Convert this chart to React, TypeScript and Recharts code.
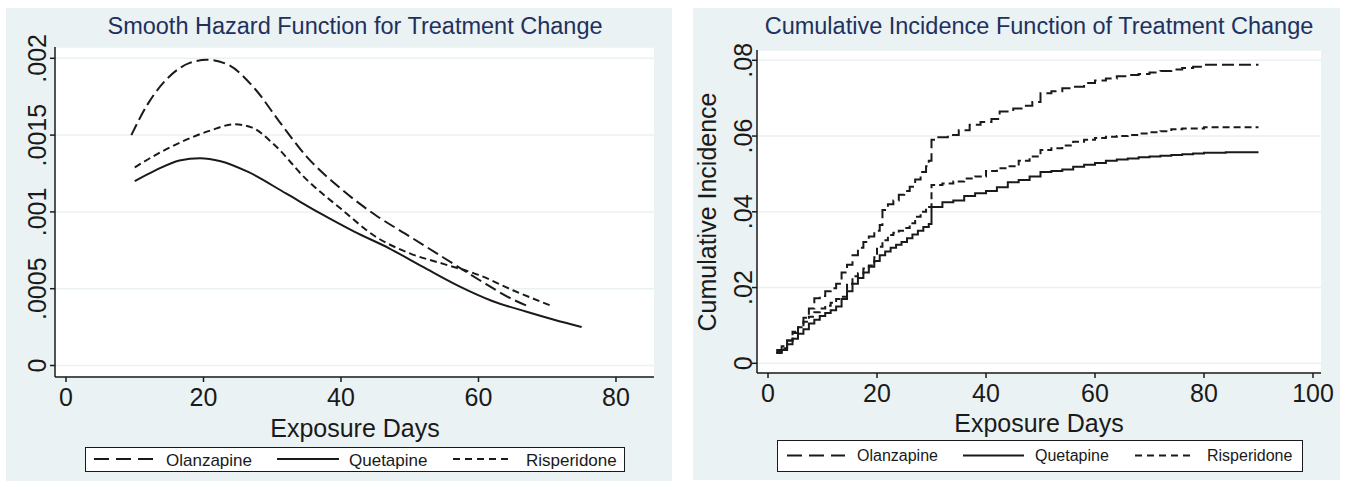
import React from 'react';
import { LineChart, Line, XAxis, YAxis, CartesianGrid } from 'recharts';

// smoothed hazard (left panel)
const olzHazX = [9.5, 12, 15, 18, 20.5, 23.5, 27.5, 31, 35, 40, 45, 50, 55, 60, 65, 67.5];
const olzHazY = [0.0015, 0.00171, 0.00188, 0.00197, 0.00199, 0.00196, 0.0018, 0.00159, 0.00136, 0.00115, 0.00098, 0.00084, 0.0007, 0.00056, 0.00043, 0.00038];
const queHazX = [10, 13, 16.5, 19.5, 22.5, 26.5, 32, 37, 42, 47, 52, 57, 62, 67, 71, 75];
const queHazY = [0.0012, 0.00127, 0.001335, 0.00135, 0.00133, 0.00126, 0.00112, 0.00099, 0.00087, 0.000763, 0.00064, 0.00052, 0.00042, 0.00035, 0.000298, 0.00025];
const risHazX = [10, 13, 17, 21, 24.5, 27, 30, 35, 40, 45, 50, 55, 60, 65, 70.5];
const risHazY = [0.00129, 0.00137, 0.00146, 0.00153, 0.00157, 0.00155, 0.00145, 0.00121, 0.00102, 0.00084, 0.00073, 0.00066, 0.00059, 0.00049, 0.00039];

// cumulative incidence (right panel)
const olzCifX = [1.5, 2.5, 3.5, 4.5, 5.5, 6.5, 7.5, 8.5, 9.5, 10.5, 11.5, 12.5, 13.5, 14.5, 15.5, 16.5, 17.5, 18.5, 19.5, 20.5, 21, 22, 23, 24, 25, 26, 27, 28, 29, 29.5, 30, 31, 33, 35, 37, 39, 41, 42.5, 45, 47, 48.5, 50, 52, 54, 56, 58, 60, 62, 64, 66, 68, 70, 72, 74, 76, 78, 80, 90];
const olzCifY = [0.0035, 0.0045, 0.006, 0.008, 0.0095, 0.012, 0.0145, 0.0172, 0.0178, 0.019, 0.0198, 0.021, 0.024, 0.026, 0.0285, 0.0305, 0.032, 0.0335, 0.035, 0.0365, 0.0405, 0.042, 0.043, 0.0445, 0.0455, 0.0466, 0.0485, 0.0505, 0.052, 0.0535, 0.059, 0.0597, 0.0603, 0.0615, 0.063, 0.0637, 0.0645, 0.0665, 0.0673, 0.068, 0.069, 0.0713, 0.0718, 0.0726, 0.073, 0.074, 0.0747, 0.0752, 0.0758, 0.0761, 0.0764, 0.0768, 0.0772, 0.0776, 0.078, 0.0783, 0.0788, 0.0788];
const queCifX = [1.5, 2.5, 3.5, 4.5, 5.5, 6.5, 7.5, 8.5, 9.5, 10.5, 11.5, 12.5, 13.5, 14.5, 15.5, 16.5, 17.5, 18.5, 19.5, 20.5, 21.5, 22.5, 23.5, 24.5, 25.5, 26.5, 27.5, 28.5, 29.5, 30, 32, 34, 36, 38, 40, 42, 44, 46, 48, 50, 52, 54, 56, 58, 60, 62, 64, 66, 68, 70, 72, 74, 76, 78, 80, 84, 90];
const queCifY = [0.0027, 0.0035, 0.005, 0.0065, 0.0078, 0.009, 0.0105, 0.0115, 0.0125, 0.0133, 0.014, 0.015, 0.017, 0.019, 0.021, 0.0225, 0.024, 0.0255, 0.027, 0.0285, 0.0295, 0.0305, 0.0313, 0.032, 0.033, 0.034, 0.035, 0.036, 0.0368, 0.0413, 0.0425, 0.043, 0.0442, 0.0449, 0.0455, 0.0465, 0.0478, 0.0484, 0.0493, 0.0505, 0.0508, 0.0512, 0.0519, 0.0524, 0.0529, 0.0535, 0.0538, 0.0541, 0.0544, 0.0546, 0.0548, 0.055, 0.0552, 0.0554, 0.0556, 0.0557, 0.0557];
const risCifX = [1.5, 2.5, 3.5, 4.5, 5.5, 6.5, 7.5, 8.5, 9.5, 10.5, 11.5, 12.5, 13.5, 14.5, 15.5, 16.5, 17.5, 18.5, 19.5, 20, 21, 22, 23, 24, 25, 26, 27, 28, 29, 30, 32, 34, 36, 38, 40, 42, 44, 46, 48, 50, 52, 54, 56, 58, 60, 62, 64, 66, 68, 70, 72, 74, 76, 80, 90];
const risCifY = [0.003, 0.004, 0.006, 0.0083, 0.0095, 0.011, 0.0123, 0.0135, 0.0145, 0.0152, 0.016, 0.017, 0.0176, 0.021, 0.023, 0.0238, 0.025, 0.0258, 0.028, 0.0308, 0.0325, 0.0339, 0.0345, 0.035, 0.0357, 0.037, 0.0387, 0.04, 0.0413, 0.0471, 0.0475, 0.048, 0.0488, 0.0493, 0.0508, 0.0515, 0.052, 0.0535, 0.0546, 0.0563, 0.0568, 0.0575, 0.0585, 0.059, 0.0595, 0.0598, 0.06, 0.0603, 0.0607, 0.061, 0.0613, 0.0618, 0.062, 0.0623, 0.0623];

const hazTicksY = [0, 0.0005, 0.001, 0.0015, 0.002];
const hazTicksX = [0, 20, 40, 60, 80];
const cifTicksY = [0, 0.02, 0.04, 0.06, 0.08];
const cifTicksX = [0, 20, 40, 60, 80, 100];

const seriesNames = ['Olanzapine', 'Quetapine', 'Risperidone'];

const toPts = (xs: number[], ys: number[]) => xs.map((x, i) => ({ x, v: ys[i] }));

const FONT = '"Liberation Sans", Arial, sans-serif';
const INK = '#1a1a1a';
const BG = '#eaf2f3';
const NAVY = '#22305e';
const LONG = '12 5';
const SHORT = '7 4';
const dashes = [LONG, undefined, SHORT];

const fmtDec = (v: number) => (v === 0 ? '0' : String(v).replace(/^0/, ''));

const RotTick = ({ x, y, payload }: any) => (
  <text
    x={x}
    y={y}
    transform={`rotate(-90 ${x} ${y})`}
    textAnchor="middle"
    fontSize={25}
    fontFamily={FONT}
    fill={INK}
  >
    {fmtDec(payload.value)}
  </text>
);

const centered = (cx: number, cy: number, extra: React.CSSProperties = {}): React.CSSProperties => ({
  position: 'absolute',
  left: cx,
  top: cy,
  transform: 'translate(-50%, -50%)',
  whiteSpace: 'nowrap',
  lineHeight: 1,
  fontFamily: FONT,
  ...extra,
});

function LegendBox({ left, top, width, height, pos, fontSize }: any) {
  // pos: [sampleStart, sampleEnd, textStart] per series, relative to box
  return (
    <div
      style={{
        position: 'absolute', left, top, width, height, boxSizing: 'border-box',
        border: `1.5px solid ${INK}`, background: '#fff',
      }}
    >
      {seriesNames.map((name, i) => {
        const [s0, s1, t0] = pos[i];
        return (
          <React.Fragment key={name}>
            <svg style={{ position: 'absolute', left: s0, top: 0 }} width={s1 - s0} height={height - 3}>
              <line x1={0} x2={s1 - s0} y1={(height - 3) / 2} y2={(height - 3) / 2}
                stroke={INK} strokeWidth={2} strokeDasharray={i === 0 ? '15 7' : i === 2 ? '7 5' : undefined} />
            </svg>
            <span style={{
              position: 'absolute', left: t0, top: '50%', transform: 'translateY(-50%)',
              fontSize, fontFamily: FONT, color: INK, lineHeight: 1, whiteSpace: 'nowrap',
            }}>{name}</span>
          </React.Fragment>
        );
      })}
    </div>
  );
}

export default function App() {
  const haz = [toPts(olzHazX, olzHazY), toPts(queHazX, queHazY), toPts(risHazX, risHazY)];
  const cif = [toPts(olzCifX, olzCifY), toPts(queCifX, queCifY), toPts(risCifX, risCifY)];

  return (
    <div style={{ position: 'absolute', left: 0, top: 0, width: 1347, height: 483, background: '#fff', overflow: 'hidden' }}>
      {/* left panel */}
      <div style={{ position: 'absolute', left: 6, top: 8, width: 666, height: 473, background: BG }}>
        <div style={centered(349, 19, { fontSize: 23.5, color: NAVY })}>Smooth Hazard Function for Treatment Change</div>
        <LineChart width={666} height={473} margin={{ top: 39, right: 18, bottom: 64, left: 9 }}>
          <CartesianGrid vertical={false} stroke={BG} strokeWidth={1.5} fill="#fff" fillOpacity={1} />
          <XAxis
            dataKey="x" type="number" domain={[-1.6, 85.53]} ticks={hazTicksX} allowDataOverflow
            height={40} tickSize={5} tickMargin={6}
            axisLine={{ stroke: INK, strokeWidth: 1.5 }} tickLine={{ stroke: INK, strokeWidth: 1.5 }}
            tick={{ fontSize: 25, fill: INK, fontFamily: FONT }}
          />
          <YAxis
            type="number" domain={[-0.0000749, 0.0020736]} ticks={hazTicksY} allowDataOverflow
            width={40} tickSize={5} tickMargin={4}
            axisLine={{ stroke: INK, strokeWidth: 1.5 }} tickLine={{ stroke: INK, strokeWidth: 1.5 }}
            tick={<RotTick />}
          />
          {haz.map((d, i) => (
            <Line key={seriesNames[i]} data={d} dataKey="v" name={seriesNames[i]} type="monotone"
              stroke={INK} strokeWidth={2} strokeDasharray={dashes[i]} dot={false} isAnimationActive={false} />
          ))}
        </LineChart>
        <div style={centered(349, 420, { fontSize: 25, color: INK })}>Exposure Days</div>
        <LegendBox left={79} top={439} width={540} height={25} fontSize={17}
          pos={[[8, 69, 80], [191, 253, 263], [367, 426, 440]]} />
      </div>

      {/* right panel */}
      <div style={{ position: 'absolute', left: 693, top: 8, width: 647, height: 472, background: BG }}>
        <div style={centered(346, 19, { fontSize: 23.5, color: NAVY })}>Cumulative Incidence Function of Treatment Change</div>
        <LineChart width={647} height={472} margin={{ top: 42, right: 19, bottom: 67, left: 14 }}>
          <CartesianGrid vertical={false} stroke={BG} strokeWidth={1.5} fill="#fff" fillOpacity={1} />
          <XAxis
            dataKey="x" type="number" domain={[-2.02, 101.47]} ticks={cifTicksX} allowDataOverflow
            height={40} tickSize={5} tickMargin={6}
            axisLine={{ stroke: INK, strokeWidth: 1.5 }} tickLine={{ stroke: INK, strokeWidth: 1.5 }}
            tick={{ fontSize: 25, fill: INK, fontFamily: FONT }}
          />
          <YAxis
            type="number" domain={[-0.00256, 0.08272]} ticks={cifTicksY} allowDataOverflow
            width={50} tickSize={5} tickMargin={0}
            axisLine={{ stroke: INK, strokeWidth: 1.5 }} tickLine={{ stroke: INK, strokeWidth: 1.5 }}
            tick={<RotTick />}
          />
          {cif.map((d, i) => (
            <Line key={seriesNames[i]} data={d} dataKey="v" name={seriesNames[i]} type="stepAfter"
              stroke={INK} strokeWidth={2} strokeDasharray={dashes[i]} dot={false} isAnimationActive={false} />
          ))}
        </LineChart>
        <div style={centered(14, 204, { fontSize: 25, color: INK, transform: 'translate(-50%, -50%) rotate(-90deg)' })}>
          Cumulative Incidence
        </div>
        <div style={centered(346, 415, { fontSize: 25, color: INK })}>Exposure Days</div>
        <LegendBox left={84} top={432} width={526} height={32} fontSize={16}
          pos={[[9, 67, 79], [185, 246, 257], [357, 415, 429]]} />
      </div>
    </div>
  );
}
